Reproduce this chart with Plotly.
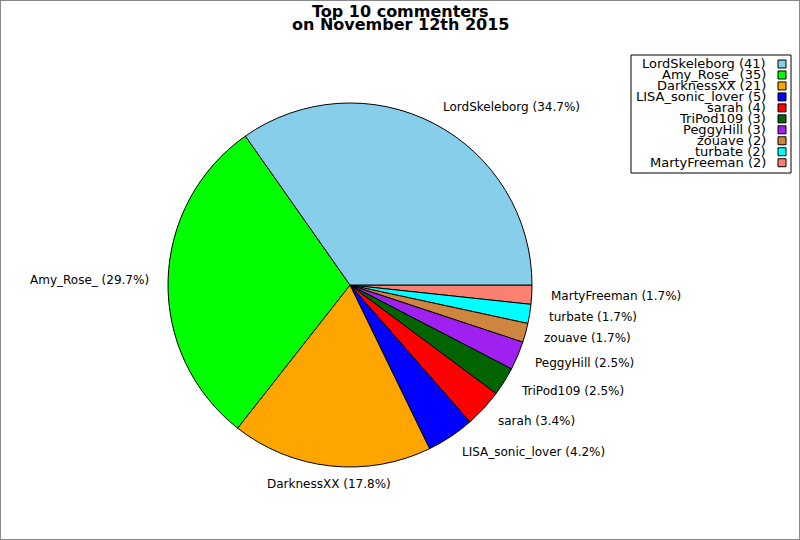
import math
import plotly.graph_objects as go

# data
names = ["LordSkeleborg", "Amy_Rose_", "DarknessXX", "LISA_sonic_lover", "sarah",
         "TriPod109", "PeggyHill", "zouave", "turbate", "MartyFreeman"]
comments = [41, 35, 21, 5, 4, 3, 3, 2, 2, 2]
colors = ["#87CEEB", "#00FF00", "#FFA500", "#0000FF", "#FF0000",
          "#006400", "#A020F0", "#CD853F", "#00FFFF", "#FA8072"]

W, H = 800, 540
cx, cy, r = 350, 255, 182  # pixel centre (from bottom) and radius

# matplotlib goes counterclockwise from 3 o'clock; plotly does the same
# picture when the order is reversed and drawn clockwise
fig = go.Figure(go.Pie(
    labels=names[::-1],
    values=comments[::-1],
    sort=False,
    direction="clockwise",
    rotation=90,
    marker=dict(colors=colors[::-1], line=dict(color="black", width=1)),
    textinfo="none",
    hoverinfo="label+value+percent",
    showlegend=False,
    domain=dict(x=[(cx - r) / W, (cx + r) / W], y=[(cy - r) / H, (cy + r) / H]),
))

annotations = []
shapes = []

# outside labels at 1.1 * radius
total = sum(comments)
start = 0.0
for name, v in zip(names, comments):
    frac = v / total
    mid = (start + frac / 2) * 2 * math.pi
    start += frac
    x = cx + 1.1 * r * math.cos(mid)
    y = cy + 1.1 * r * math.sin(mid)
    if abs(math.cos(mid)) < 0.15:
        anchor = "center"
    elif math.cos(mid) > 0:
        anchor = "left"
    else:
        anchor = "right"
    annotations.append(dict(
        x=x / W, y=y / H, xref="paper", yref="paper",
        text="%s (%.1f%%)" % (name, frac * 100), showarrow=False,
        xanchor=anchor, yanchor="middle", borderpad=0,
        font=dict(family="DejaVu Sans", size=12, color="black"),
    ))

# title, two lines set close together
for line, yc in [("Top 10 commenters", 11), ("on November 12th 2015", 24.5)]:
    annotations.append(dict(
        x=400 / W, y=1 - yc / H, xref="paper", yref="paper",
        text="<b>%s</b>" % line, showarrow=False,
        xanchor="center", yanchor="middle",
        font=dict(family="DejaVu Sans", size=16, color="black"),
    ))

# legend box with markers on the right side
shapes.append(dict(type="rect", xref="paper", yref="paper",
                   x0=631 / W, x1=791 / W, y0=1 - 173 / H, y1=1 - 55 / H,
                   line=dict(color="black", width=1), fillcolor="white"))
for i, (name, v, c) in enumerate(zip(names, comments, colors)):
    yc = 64 + i * 10.97
    annotations.append(dict(
        x=768 / W, y=1 - yc / H, xref="paper", yref="paper",
        text="%s (%d)" % (name, v), showarrow=False,
        xanchor="right", yanchor="middle",
        font=dict(family="DejaVu Sans", size=13, color="black"),
    ))
    shapes.append(dict(type="rect", xref="paper", yref="paper",
                       x0=778 / W, x1=786 / W, y0=1 - (yc + 4) / H, y1=1 - (yc - 4) / H,
                       line=dict(color="black", width=1), fillcolor=c))

# outer grey frame
shapes.append(dict(type="rect", xref="paper", yref="paper", x0=0, x1=1, y0=0, y1=1,
                   line=dict(color="#888888", width=2)))

fig.update_layout(
    width=W, height=H,
    margin=dict(l=0, r=0, t=0, b=0),
    paper_bgcolor="white",
    plot_bgcolor="white",
    annotations=annotations,
    shapes=shapes,
)

fig.write_html("out.html", config={"displayModeBar": False},
               post_script="document.body.style.margin='0';")
